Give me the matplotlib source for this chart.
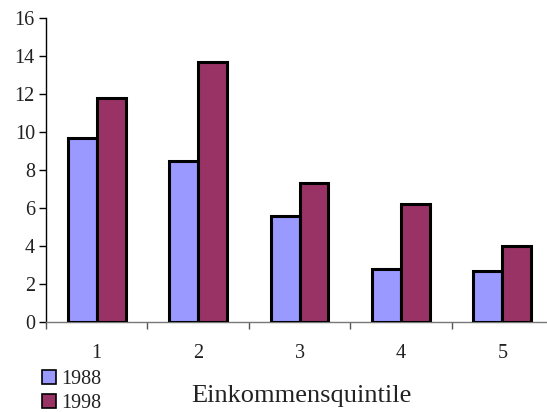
import numpy as np
import matplotlib.pyplot as plt
from matplotlib.patches import Patch

quintiles = ['1', '2', '3', '4', '5']
share_1988 = [9.7, 8.5, 5.6, 2.8, 2.7]
share_1998 = [11.8, 13.7, 7.3, 6.2, 4.0]
yticks = [0, 2, 4, 6, 8, 10, 12, 14, 16]

plt.rcParams['font.family'] = ['Liberation Serif', 'DejaVu Serif']

fig = plt.figure(figsize=(5.47, 4.12), dpi=100)
ax = fig.add_axes([46 / 547, 90 / 412, 507 / 547, 304 / 412])

x = np.arange(len(quintiles))
w = 0.285
ax.bar(x - w / 2, share_1988, w, color='#9999ff', edgecolor='black', linewidth=2.2, label='1988', zorder=3)
ax.bar(x + w / 2, share_1998, w, color='#993366', edgecolor='black', linewidth=2.2, label='1998', zorder=3)

ax.set_xlim(-0.5, len(quintiles) - 0.5)
ax.set_ylim(0, 16)
ax.set_yticks(yticks)
ax.tick_params(axis='y', direction='out', length=5, width=1, labelsize=14.5, pad=3, labelcolor='#222222')
ax.set_xticks(x)
ax.set_xticklabels(quintiles)
ax.set_xticks(np.arange(len(quintiles) + 1) - 0.5, minor=True)
ax.tick_params(axis='x', which='major', length=0, labelsize=14.5, pad=16, labelcolor='#222222')
ax.tick_params(axis='x', which='minor', direction='out', length=5, width=1, color='#555555')

for side in ['top', 'right']:
    ax.spines[side].set_visible(False)
ax.spines['left'].set_linewidth(1)
ax.spines['bottom'].set_color('#777777')
ax.spines['bottom'].set_linewidth(1)

fig.text(301 / 547, 1 - 396 / 412, 'Einkommensquintile', fontsize=19, ha='center', va='center',
         color='#222222')

handles = [Patch(facecolor='#9999ff', edgecolor='black', linewidth=1.2),
           Patch(facecolor='#993366', edgecolor='black', linewidth=1.2)]
fig.legend(handles, ['1988', '1998'], loc='upper left', bbox_to_anchor=(30 / 547, 1 - 358 / 412),
           frameon=False, fontsize=14.5, handlelength=0.7, handleheight=0.7, handletextpad=0.25,
           labelspacing=0.22, borderpad=0.1, labelcolor='#222222')

fig.savefig('out.png', dpi=100)
